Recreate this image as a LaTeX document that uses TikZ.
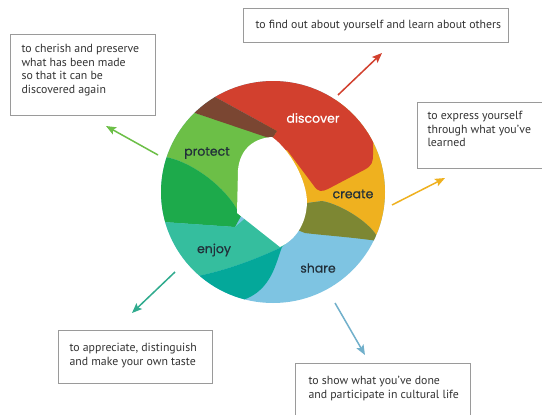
\documentclass[tikz,border=0pt]{standalone}
\usepackage{fontspec}
\setmainfont{PT Sans}
\newfontfamily\ringfont{Poppins}[FakeBold=0.6]
\usetikzlibrary{arrows.meta}
\definecolor{cRed}{HTML}{D2402E}
\definecolor{cBrown}{HTML}{7A4632}
\definecolor{cGreen}{HTML}{6CBF47}
\definecolor{cDkGreen}{HTML}{1DAA4B}
\definecolor{cTeal}{HTML}{35BE9E}
\definecolor{cDkTeal}{HTML}{04A89A}
\definecolor{cBlue}{HTML}{7EC4E2}
\definecolor{cOlive}{HTML}{7D8733}
\definecolor{cYellow}{HTML}{EFB11F}
\definecolor{boxgray}{HTML}{9A9A9A}
\definecolor{txtgray}{HTML}{333333}
\definecolor{lbldark}{HTML}{22303A}
\newcommand{\infotext}[5]{\begin{minipage}[t][#2][t]{#1}\vspace*{#3}\noindent\hspace*{#4}\begin{tabular}[t]{@{}l@{}}#5\end{tabular}\end{minipage}}
\begin{document}
\begin{tikzpicture}[x=1pt,y=-1pt,
  ringlbl/.style={font=\ringfont\fontsize{12.5}{14}\selectfont, text=lbldark, inner sep=0pt},
  infobox/.style={draw=boxgray, line width=1.1pt, fill=white, inner sep=0pt, anchor=north west,
    font=\fontsize{11.8}{13.7}\selectfont, text=txtgray},
  arr/.style={line width=1.5pt, -{Stealth[length=10pt,width=8pt,inset=2pt]}}]
\useasboundingbox (0,0) rectangle (542,415);
\fill[white] (0,0) rectangle (542,415);
% ring
\begin{scope}
\clip (273,192) ellipse [x radius=112pt, y radius=111pt];
\fill[cBlue] (150,70) rectangle (400,320);
\fill[cYellow] (260,100) -- (420,100) -- (420,240) -- (378,238) .. controls (370,222) and (340,204) .. (322,201) -- (307,203) -- (275,205) -- cycle;
\fill[cOlive] (307,203) -- (322,201) .. controls (340,204) and (370,222) .. (378,238) -- (420,245) -- (420,255) -- (378,241) .. controls (350,237) and (320,235) .. (305,233) -- (285,225) -- cycle;
\fill[cRed] (200,75) -- (215,97) -- (277,131) -- (265,150) -- (287,150) -- (314,186) .. controls (318,192) and (322,192) .. (328,189) -- (364,170) .. controls (372,166) and (373,162) .. (373,155) -- (373,138) -- (420,130) -- (420,40) -- (180,40) -- cycle;
\fill[cGreen] (180,100) -- (195,113) -- (272,137) -- (260,150) -- (255,180) -- (240,215) -- (233,203) .. controls (215,178) and (185,160) .. (165,157) -- (140,157) -- (140,100) -- cycle;
\fill[cBrown] (200,75) -- (215,97) -- (277,131) -- (268,145) -- (272,139) -- (195,113) -- (180,100) -- cycle;
\fill[cDkGreen] (140,157) -- (165,157) .. controls (185,160) and (215,178) .. (233,203) -- (241,216) -- (235,227) -- (163,222) -- (140,222) -- cycle;
\fill[cTeal] (140,222) -- (163,222) -- (235,227) -- (255,210) -- (290,240) -- (282,247) .. controls (250,262) and (220,272) .. (193,277) -- (160,300) -- cycle;
\fill[cDkTeal] (160,300) -- (193,277) .. controls (220,272) and (250,262) .. (282,247) .. controls (276,262) and (272,290) .. (243,300) -- (240,320) -- cycle;
\end{scope}
\fill[white] (272,137) .. controls (255,138) and (240,148) .. (238,170) -- (237,213) -- (280,247) .. controls (295,240) and (306,225) .. (307,203) .. controls (307,180) and (290,150) .. (272,137) -- cycle;
% ring labels
\node[ringlbl, text=white] (discover) at (313,118) {discover};
\node[ringlbl] (protect) at (207,153) {protect};
\node[ringlbl] (create) at (353,194) {create};
\node[ringlbl] (enjoy) at (214,250) {enjoy};
\node[ringlbl] (share) at (318,268) {share};
% boxes
\node[infobox] (bprotect) at (10,34) {\infotext{145pt}{81pt}{8.4pt}{11pt}{to cherish and preserve\\what has been made\\so that it can be\\discovered again}};
\node[infobox] (bdiscover) at (243,8) {\infotext{265pt}{34pt}{10.4pt}{12pt}{to find out about yourself and learn about others}};
\node[infobox] (bcreate) at (417,102) {\infotext{140pt}{66pt}{7.4pt}{10pt}{to express yourself\\through what you've\\learned}};
\node[infobox] (benjoy) at (58,330) {\infotext{154pt}{53pt}{11.4pt}{11pt}{to appreciate, distinguish\\and make your own taste}};
\node[infobox] (bshare) at (295,363) {\infotext{175pt}{60pt}{11.4pt}{13pt}{to show what you've done\\and participate in cultural life}};
% arrows
\coordinate (gS) at (158,155); \coordinate (gE) at (106,126);
\coordinate (rS) at (338,95);  \coordinate (rE) at (382,53);
\coordinate (yS) at (392,205); \coordinate (yE) at (445,178);
\coordinate (tS) at (175,272); \coordinate (tE) at (132,313);
\coordinate (bS) at (335,303); \coordinate (bE) at (365,355);
\draw[arr, draw=cGreen, fill=cGreen] (gS) -- (gE);
\draw[arr, draw=cRed, fill=cRed] (rS) -- (rE);
\draw[arr, draw=cYellow, fill=cYellow] (yS) -- (yE);
\draw[arr, draw=cTeal!90!black, fill=cTeal!90!black] (tS) -- (tE);
\draw[arr, draw=cBlue!90!black, fill=cBlue!90!black] (bS) -- (bE);
\end{tikzpicture}
\end{document}
